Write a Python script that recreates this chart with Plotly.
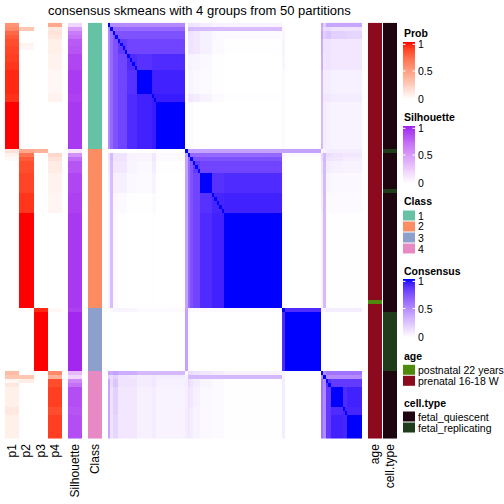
import numpy as np
import plotly.graph_objects as go

# ---------------- data ----------------
class_names = ["1", "2", "3", "4"]
class_sizes = [32, 40, 16, 17]
prob_names = ["p1", "p2", "p3", "p4"]

p1 = ([0.55, 0.6, 0.75, 0.8, 0.85, 0.85, 0.88, 0.88, 0.9, 0.9, 0.92, 0.92] + [0.95] * 6 + [0.93, 0.93] + [1.0] * 12
      + [0.15, 0.06, 0.03] + [0.0] * 37
      + [0.0] * 16
      + [0.35, 0.3, 0.05, 0.12, 0.08, 0.08, 0.08, 0.08, 0.08, 0.12, 0.12] + [0.08] * 6)
p2 = ([0.0, 0.3, 0.0, 0.0, 0.0, 0.06, 0.04] + [0.0] * 25
      + [0.45, 0.7, 0.8, 0.85, 0.85, 0.85] + [0.88] * 5 + [0.92] * 5 + [1.0] * 24
      + [0.02] + [0.0] * 15
      + [0.0, 0.3, 0.1] + [0.0] * 14)
p3 = ([0.0] * 32
      + [0.4] + [0.0] * 39
      + [0.95] + [1.0] * 15
      + [0.0] * 17)
p4 = ([0.45, 0.12, 0.15, 0.12, 0.08, 0.08, 0.08, 0.08, 0.06, 0.06, 0.06, 0.06] + [0.04] * 6 + [0.06, 0.06] + [0.0] * 12
      + [0.0, 0.2, 0.15, 0.1, 0.1, 0.1] + [0.06] * 5 + [0.05] * 5 + [0.0] * 24
      + [0.04] + [0.0] * 15
      + [0.6, 0.4, 0.85, 0.85] + [0.9] * 5 + [0.85, 0.85] + [0.9] * 6)
silhouette = ([0.2, 0.5, 0.65, 0.7, 0.8, 0.8, 0.82, 0.82, 0.88, 0.88, 0.88, 0.88] + [0.92] * 6 + [0.9, 0.9] + [0.93] * 12
              + [0.12, 0.55, 0.72, 0.82, 0.82, 0.82] + [0.88] * 5 + [0.9] * 5 + [0.93] * 24
              + [0.9] + [0.98] * 15
              + [0.35, 0.2, 0.6, 0.7] + [0.85] * 5 + [0.82, 0.82] + [0.85] * 6)
age_levels = ["postnatal 22 years", "prenatal 16-18 W"]
age = ["prenatal 16-18 W"] * 70 + ["postnatal 22 years"] + ["prenatal 16-18 W"] * 34
cell_levels = ["fetal_quiescent", "fetal_replicating"]
cell_type = (["fetal_quiescent"] * 32 + ["fetal_replicating"] + ["fetal_quiescent"] * 9 + ["fetal_replicating"]
             + ["fetal_quiescent"] * 29 + ["fetal_quiescent"] + ["fetal_replicating"] * 15 + ["fetal_quiescent"] * 17)

# consensus: sub-groups of consecutive samples, and consensus between sub-groups (lower triangle)
segment_sizes = [1, 1, 2, 4, 4, 6, 2, 12,      # class 1
                 1, 1, 1, 3, 5, 5, 24,         # class 2
                 1, 15,                        # class 3
                 1, 1, 2, 5, 2, 6]             # class 4
segment_consensus = [
    [1.0],
    [0.5, 1.0],
    [0.5, 0.65, 0.75],
    [0.5, 0.65, 0.75, 0.85],
    [0.5, 0.65, 0.75, 0.8, 0.9],
    [0.5, 0.65, 0.75, 0.8, 0.88, 1.0],
    [0.5, 0.65, 0.75, 0.8, 0.9, 0.93, 0.95],
    [0.5, 0.65, 0.75, 0.8, 0.9, 0.93, 0.95, 1.0],
    [0, 0, 0, 0, 0, 0, 0, 0, 1.0],
    [0.12, 0.3, 0.12, 0.12, 0.05, 0.04, 0.1, 0.02, 0.4, 1.0],
    [0.12, 0.3, 0.12, 0.12, 0.05, 0.04, 0.1, 0.02, 0.4, 0.65, 1.0],
    [0.1, 0.28, 0.1, 0.1, 0.04, 0.03, 0.08, 0.01, 0.4, 0.65, 0.75, 0.85],
    [0.08, 0.28, 0.06, 0.06, 0.03, 0.02, 0.05, 0.0, 0.4, 0.65, 0.75, 0.8, 1.0],
    [0.05, 0.28, 0.03, 0.02, 0.01, 0.01, 0.02, 0.0, 0.4, 0.65, 0.75, 0.8, 0.88, 0.92],
    [0.05, 0.28, 0.02, 0.01, 0.0, 0.0, 0.01, 0.0, 0.4, 0.65, 0.75, 0.8, 0.9, 0.93, 1.0],
    [0, 0.02, 0.04, 0.05, 0.04, 0.02, 0.02, 0.02, 0.4, 0.05, 0.02, 0.02, 0.02, 0.02, 0.02, 1.0],
    [0, 0, 0, 0, 0, 0, 0, 0, 0.4, 0.02, 0, 0, 0, 0, 0, 0.9, 1.0],
    [0.4, 0.35, 0.4, 0.35, 0.35, 0.3, 0.3, 0.3, 0.0, 0.15, 0.15, 0.12, 0.1, 0.08, 0.05, 0.05, 0, 1.0],
    [0.2, 0.15, 0.2, 0.12, 0.1, 0.08, 0.1, 0.08, 0.05, 0.3, 0.3, 0.3, 0.3, 0.3, 0.3, 0.05, 0, 0.5, 1.0],
    [0.38, 0.15, 0.25, 0.12, 0.12, 0.08, 0.1, 0.06, 0.08, 0.15, 0.12, 0.08, 0.04, 0.02, 0.01, 0.08, 0, 0.6, 0.5, 0.88],
    [0.38, 0.12, 0.2, 0.1, 0.1, 0.06, 0.08, 0.05, 0.08, 0.12, 0.1, 0.06, 0.03, 0.02, 0.01, 0.08, 0, 0.6, 0.5, 0.85, 1.0],
    [0.38, 0.12, 0.2, 0.1, 0.1, 0.06, 0.08, 0.05, 0.08, 0.1, 0.08, 0.05, 0.03, 0.02, 0.01, 0.08, 0, 0.6, 0.5, 0.85, 0.9, 0.92],
    [0.38, 0.12, 0.18, 0.1, 0.1, 0.06, 0.08, 0.05, 0.08, 0.1, 0.08, 0.05, 0.03, 0.02, 0.01, 0.08, 0, 0.6, 0.5, 0.85, 0.93, 0.92, 1.0],
]

# ---------------- colours ----------------
class_colors = ["#66C2A5", "#FC8D62", "#8DA0CB", "#E78AC3"]
age_colors = ["#4E8A0E", "#8B0A1E"]
cell_colors = ["#1E0510", "#1F3D1A"]


def _to_lin(c):
    c = c / 255.0
    return np.where(c <= 0.04045, c / 12.92, ((c + 0.055) / 1.055) ** 2.4)


def _from_lin(c):
    c = np.clip(c, 0, 1)
    return np.where(c <= 0.0031308, c * 12.92, 1.055 * c ** (1 / 2.4) - 0.055) * 255


def hex_to_lab(h):
    rgb = np.array([int(h[i:i + 2], 16) for i in (1, 3, 5)], float)
    r, g, b = _to_lin(rgb)
    X = 0.4124 * r + 0.3576 * g + 0.1805 * b
    Y = 0.2126 * r + 0.7152 * g + 0.0722 * b
    Z = 0.0193 * r + 0.1192 * g + 0.9505 * b
    xn, yn, zn = 0.95047, 1.0, 1.08883

    def f(t):
        return t ** (1 / 3) if t > 0.008856 else 7.787 * t + 16 / 116
    fx, fy, fz = f(X / xn), f(Y / yn), f(Z / zn)
    return np.array([116 * fy - 16, 500 * (fx - fy), 200 * (fy - fz)])


def lab_to_hex(lab):
    L, a, b = lab
    fy = (L + 16) / 116
    fx = fy + a / 500
    fz = fy - b / 200

    def finv(t):
        return t ** 3 if t ** 3 > 0.008856 else (t - 16 / 116) / 7.787
    X, Y, Z = 0.95047 * finv(fx), finv(fy), 1.08883 * finv(fz)
    r = 3.2406 * X - 1.5372 * Y - 0.4986 * Z
    g = -0.9689 * X + 1.8758 * Y + 0.0415 * Z
    bb = 0.0557 * X - 0.2040 * Y + 1.0570 * Z
    rgb = _from_lin(np.array([r, g, bb]))
    return "rgb(%d,%d,%d)" % tuple(int(round(v)) for v in rgb)


def lab_scale(c0, c1, n=21):
    l0, l1 = hex_to_lab(c0), hex_to_lab(c1)
    return [[t, lab_to_hex(l0 + (l1 - l0) * t)] for t in np.linspace(0, 1, n)]


prob_scale = lab_scale("#FFFFFF", "#FF0000")
sil_scale = lab_scale("#FFFFFF", "#A020F0")
cons_scale = lab_scale("#FFFFFF", "#0000FF")


def discrete_scale(cols):
    n = len(cols)
    cs = []
    for i, c in enumerate(cols):
        cs.append([i / n, c])
        cs.append([(i + 1) / n, c])
    return cs


# ---------------- build matrices ----------------
N = len(p1)
seg_of = np.repeat(np.arange(len(segment_sizes)), segment_sizes)
S = np.zeros((len(segment_sizes), len(segment_sizes)))
for i, row in enumerate(segment_consensus):
    for j, v in enumerate(row):
        S[i, j] = v
        S[j, i] = v
consensus = S[seg_of][:, seg_of]
np.fill_diagonal(consensus, 1.0)

class_of = np.repeat(np.arange(4), class_sizes)
prob_mat = np.array([p1, p2, p3, p4]).T
rows = list(range(N))

# ---------------- layout helpers ----------------
W = H = 504
TOP, BOT = 22.7, 438.7


def xd(a, b):
    return [a / W, b / W]


def yd(t, b):
    return [1 - b / H, 1 - t / H]


fig = go.Figure()


def add_panel(idx, trace, xdom, ydom, xrange, yrange, showticks=False, catx=None):
    xa = "x" if idx == 1 else "x%d" % idx
    ya = "y" if idx == 1 else "y%d" % idx
    trace.update(xaxis=xa, yaxis=ya)
    fig.add_trace(trace)
    xkey = "xaxis" if idx == 1 else "xaxis%d" % idx
    ykey = "yaxis" if idx == 1 else "yaxis%d" % idx
    xax = dict(domain=xdom, range=xrange, anchor=ya, showgrid=False, zeroline=False,
               showline=False, ticks="", fixedrange=True, automargin=False)
    if showticks:
        xax.update(showticklabels=True, tickangle=-90, tickmode="array",
                   tickvals=list(range(len(catx))), ticktext=catx,
                   tickfont=dict(size=12, color="black"), ticklabelstandoff=2)
    else:
        xax.update(showticklabels=False)
    yax = dict(domain=ydom, range=yrange, anchor=xa, showgrid=False, zeroline=False,
               showline=False, showticklabels=False, ticks="", fixedrange=True, automargin=False)
    fig.update_layout({xkey: xax, ykey: yax})


yrng = [N - 0.5, -0.5]
ydom_main = yd(TOP, BOT)

# Prob
add_panel(1, go.Heatmap(z=prob_mat, x=list(range(4)), y=rows, colorscale=prob_scale, zmin=0, zmax=1,
                        showscale=False, hoverinfo="skip"),
          xd(5, 62), ydom_main, [-0.5, 3.5], yrng, True, prob_names)
# Silhouette
add_panel(2, go.Heatmap(z=[[s] for s in silhouette], x=[0], y=rows, colorscale=sil_scale, zmin=0, zmax=1,
                        showscale=False, hoverinfo="skip"),
          xd(68, 82), ydom_main, [-0.5, 0.5], yrng, True, ["Silhouette"])
# Class
add_panel(3, go.Heatmap(z=[[int(c)] for c in class_of], x=[0], y=rows, colorscale=discrete_scale(class_colors),
                        zmin=-0.5, zmax=3.5, showscale=False, hoverinfo="skip"),
          xd(88, 102), ydom_main, [-0.5, 0.5], yrng, True, ["Class"])
# Consensus
add_panel(4, go.Heatmap(z=consensus, x=rows, y=rows, colorscale=cons_scale, zmin=0, zmax=1,
                        showscale=False, hoverinfo="skip"),
          xd(108, 362), ydom_main, [-0.5, N - 0.5], yrng)
# age
add_panel(5, go.Heatmap(z=[[age_levels.index(a)] for a in age], x=[0], y=rows,
                        colorscale=discrete_scale(age_colors), zmin=-0.5, zmax=1.5, showscale=False,
                        hoverinfo="skip"),
          xd(368, 382), ydom_main, [-0.5, 0.5], yrng, True, ["age"])
# cell.type
add_panel(6, go.Heatmap(z=[[cell_levels.index(c)] for c in cell_type], x=[0], y=rows,
                        colorscale=discrete_scale(cell_colors), zmin=-0.5, zmax=1.5, showscale=False,
                        hoverinfo="skip"),
          xd(383, 397), ydom_main, [-0.5, 0.5], yrng, True, ["cell.type"])

# ---------------- legends ----------------
ramp = np.linspace(1, 0, 60)
LX0, LX1 = 403, 415
legend_bars = [("Prob", prob_scale, 42, 100, 32.7), ("Silhouette", sil_scale, 126, 184, 117),
               ("Consensus", cons_scale, 279, 338, 270.7)]
annotations = []
shapes = []


def ann(text, xpx, ypx, xanchor="left", size=10.5):
    annotations.append(dict(text=text, x=xpx / W, y=1 - ypx / H, xref="paper", yref="paper",
                            xanchor=xanchor, yanchor="middle", showarrow=False, font=dict(size=size)))


idx = 7
for name, cs, t, b, ty in legend_bars:
    add_panel(idx, go.Heatmap(z=[[v] for v in ramp], x=[0], y=list(range(len(ramp))), colorscale=cs,
                              zmin=0, zmax=1, showscale=False, hoverinfo="skip"),
              xd(LX0, LX1), yd(t, b), [-0.5, 0.5], [len(ramp) - 0.5, -0.5])
    idx += 1
    ann("<b>%s</b>" % name, LX0 - 1, ty)
    for lab, frac in (("1", 0.04), ("0.5", 0.5), ("0", 0.98)):
        yy = t + (b - t) * frac
        ann(lab, 416, yy)
        if lab != "0":
            for xa0, xa1 in ((LX0, LX0 + 2.5), (LX1 - 2.5, LX1)):
                shapes.append(dict(type="line", xref="paper", yref="paper", x0=xa0 / W, x1=xa1 / W,
                                   y0=1 - yy / H, y1=1 - yy / H, line=dict(color="white", width=1)))

discrete_legends = [("Class", class_names, class_colors, 201, 210),
                    ("age", age_levels, age_colors, 355.7, 364.3),
                    ("cell.type", cell_levels, cell_colors, 402.7, 411)]
for name, labs, cols, ty, y0 in discrete_legends:
    ann("<b>%s</b>" % name, LX0 - 1, ty)
    for k, (lab, col) in enumerate(zip(labs, cols)):
        t = y0 + 11 * k
        shapes.append(dict(type="rect", xref="paper", yref="paper", x0=LX0 / W, x1=LX1 / W,
                           y0=1 - (t + 10.5) / H, y1=1 - (t + 0.5) / H, fillcolor=col, line=dict(width=0)))
        ann(lab, 416, t + 5.5)

ann("consensus skmeans with 4 groups from 50 partitions", 199, 10.5, xanchor="center", size=13)

fig.update_layout(width=W, height=H, margin=dict(l=0, r=0, t=0, b=0), paper_bgcolor="white",
                  plot_bgcolor="white", showlegend=False, annotations=annotations, shapes=shapes,
                  font=dict(family="Liberation Sans, Arial, sans-serif", color="black"))
fig.write_html("out.html", config={"displayModeBar": False},
               post_script="document.body.style.margin='0';document.body.style.overflow='hidden';")
